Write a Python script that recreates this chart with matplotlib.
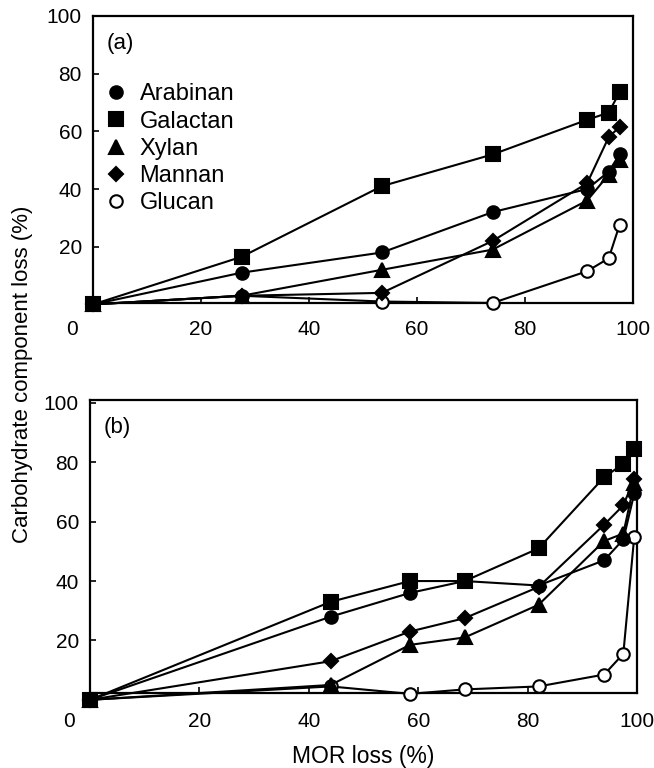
import matplotlib
matplotlib.use("Agg")
import matplotlib.pyplot as plt
from matplotlib.lines import Line2D
from matplotlib.transforms import ScaledTranslation

plt.rcParams['font.family'] = ['Liberation Sans', 'DejaVu Sans']

# ---- Panel (a) data ----
x_a = [0, 27.5, 53.5, 74, 91.5, 95.5, 97.5]
arabinan_a = [0, 11, 18, 32, 40, 46, 52]
galactan_a = [0, 16.5, 41, 52, 64, 66.5, 73.5]
xylan_a = [0, 3, 12, 19, 36, 45, 50]
mannan_a = [0, 3, 4, 22, 42, 58, 61.5]
glucan_a = [0, 3, 1, 0.5, 11.5, 16, 27.5]

# ---- Panel (b) data ----
x_b = [0, 44, 58.5, 68.5, 82, 94, 97.5, 99.5]
arabinan_b = [0, 28, 36, 40, 38.5, 47, 54, 69.5]
galactan_b = [0, 33, 40, 40, 51, 75, 79.5, 84.5]
xylan_b = [0, 5, 18.5, 21, 32, 53.5, 56, 73]
mannan_b = [0, 13, 23, 27.5, 38, 59, 65.5, 74.5]
glucan_b = [0, 4.5, 2, 3.5, 4.5, 8.5, 15.5, 55]

series_names = ["Arabinan", "Galactan", "Xylan", "Mannan", "Glucan"]
xticks = [0, 20, 40, 60, 80, 100]
yticks = [20, 40, 60, 80, 100]

styles = {
    "Arabinan": dict(marker='o', mfc='black', ms=9, z=4),
    "Galactan": dict(marker='s', mfc='black', ms=9.5, z=4),
    "Xylan": dict(marker='^', mfc='black', ms=9.5, z=4),
    "Mannan": dict(marker='D', mfc='black', ms=7.5, z=4),
    "Glucan": dict(marker='o', mfc='white', ms=9, z=3),
}

fig = plt.figure(figsize=(6.54, 7.68), dpi=100)
ax1 = fig.add_axes([0.1422, 0.6055, 0.8257, 0.3737])
ax2 = fig.add_axes([0.1376, 0.0977, 0.8364, 0.3815])

data_a = [arabinan_a, galactan_a, xylan_a, mannan_a, glucan_a]
data_b = [arabinan_b, galactan_b, xylan_b, mannan_b, glucan_b]

for ax, xs, data, ylim, lab, xpad in [(ax1, x_a, data_a, (0.5, 100), "(a)", 12),
                                      (ax2, x_b, data_b, (2.3, 101), "(b)", 14)]:
    for name, ys in zip(series_names, data):
        st = styles[name]
        ax.plot(xs, ys, color='black', lw=1.5, marker=st['marker'],
                mfc=st['mfc'], mec='black', mew=1.5, ms=st['ms'],
                clip_on=False, zorder=st['z'])
    ax.set_xlim(0, 100)
    ax.set_ylim(*ylim)
    ax.set_xticks(xticks)
    ax.set_yticks(yticks)
    ax.tick_params(direction='in', length=4, width=1.2, labelsize=15)
    ax.tick_params(axis='y', pad=8)
    ax.tick_params(axis='x', pad=xpad)
    for sp in ax.spines.values():
        sp.set_linewidth(1.6)
    ax.text(0.025, 0.905, lab, transform=ax.transAxes, fontsize=16,
            ha='left', va='center')
    first = ax.get_xticklabels()[0]
    first.set_transform(first.get_transform() +
                        ScaledTranslation(-15 / 72, 0, fig.dpi_scale_trans))

handles = [Line2D([], [], color='black', linestyle='none',
                  marker=styles[n]['marker'], mfc=styles[n]['mfc'],
                  mec='black', mew=1.5, ms=styles[n]['ms'])
           for n in series_names]
ax1.legend(handles, series_names, loc='upper left',
           bbox_to_anchor=(0.025, 0.765), frameon=False, fontsize=17,
           handlelength=0.8, handletextpad=0.6, labelspacing=0.22,
           borderaxespad=0.0, borderpad=0.0)

ax2.set_xlabel("MOR loss (%)", fontsize=16.5, labelpad=10)
fig.text(0.034, 0.513, "Carbohydrate component loss (%)", rotation=90,
         fontsize=16, ha='center', va='center')

fig.savefig("out.png", dpi=100)
